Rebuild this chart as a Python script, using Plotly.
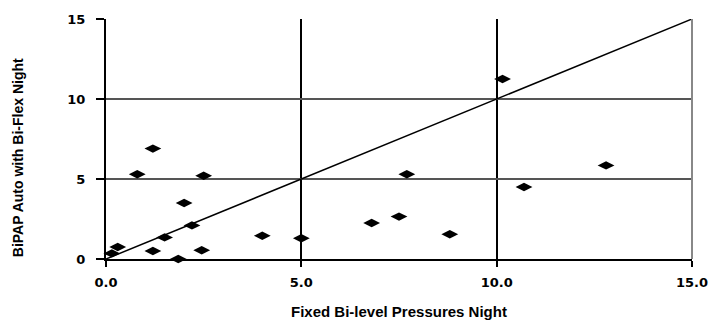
import plotly.graph_objects as go

# Data
fixed_bilevel = [0.15, 0.3, 0.8, 1.2, 1.2, 1.5, 1.85, 2.0, 2.2, 2.45, 2.5, 4.0,
                 5.0, 6.8, 7.5, 7.7, 8.8, 10.15, 10.7, 12.8]
bipap_auto = [0.35, 0.75, 5.3, 6.9, 0.5, 1.35, 0.0, 3.5, 2.1, 0.55, 5.2, 1.45,
              1.3, 2.25, 2.65, 5.3, 1.55, 11.25, 4.5, 5.85]

identity_x = [0, 15]
identity_y = [0, 15]

x_ticks = [0, 5, 10, 15]
x_tick_labels = ["0.0", "5.0", "10.0", "15.0"]
y_ticks = [0, 5, 10, 15]
y_tick_labels = ["0", "5", "10", "15"]

x_title = "Fixed Bi-level Pressures Night"
y_title = "BiPAP Auto with Bi-Flex Night"

fig = go.Figure()
fig.add_trace(go.Scatter(
    x=identity_x, y=identity_y, mode="lines",
    line=dict(color="black", width=1.5), showlegend=False, hoverinfo="skip",
    cliponaxis=False,
))
fig.add_trace(go.Scatter(
    x=fixed_bilevel, y=bipap_auto, mode="markers",
    marker=dict(symbol="diamond-wide", size=12, color="black",
                line=dict(width=0)),
    showlegend=False, cliponaxis=False,
))

tick_font = dict(family="DejaVu Sans", size=13, color="black", weight="bold")

fig.update_layout(
    width=720, height=326,
    margin=dict(l=106, r=23, t=18, b=67),
    paper_bgcolor="white", plot_bgcolor="white",
    xaxis=dict(
        range=[0, 15], tickvals=x_ticks, ticktext=x_tick_labels,
        showgrid=True, gridcolor="black", gridwidth=2,
        showline=True, linecolor="black", linewidth=2,
        ticks="outside", ticklen=6, tickwidth=2, tickcolor="black",
        ticklabelstandoff=4,
        zeroline=False, tickfont=tick_font, fixedrange=True,
    ),
    yaxis=dict(
        range=[0, 15], tickvals=y_ticks, ticktext=y_tick_labels,
        showgrid=True, gridcolor="#555555", gridwidth=1.5,
        showline=True, linecolor="black", linewidth=2,
        ticks="outside", ticklen=8, tickwidth=1.5, tickcolor="black",
        ticklabelstandoff=8,
        zeroline=False, tickfont=tick_font, fixedrange=True,
    ),
    shapes=[dict(type="line", xref="paper", yref="paper", x0=1, x1=1, y0=0, y1=1,
                 line=dict(color="#888888", width=2), layer="above")],
    annotations=[
        dict(text=x_title, xref="paper", yref="paper", x=0.5, y=0,
             yshift=-52, showarrow=False, yanchor="middle", xanchor="center",
             font=dict(family="Liberation Sans Narrow, Liberation Sans", size=15,
                       color="black", weight="bold")),
        dict(text=y_title, xref="paper", yref="paper", x=0, y=0.42,
             xshift=-88, showarrow=False, textangle=-90,
             xanchor="center", yanchor="middle",
             font=dict(family="Liberation Sans", size=14, color="black",
                       weight="bold")),
    ],
)

fig.write_html("out.html")
